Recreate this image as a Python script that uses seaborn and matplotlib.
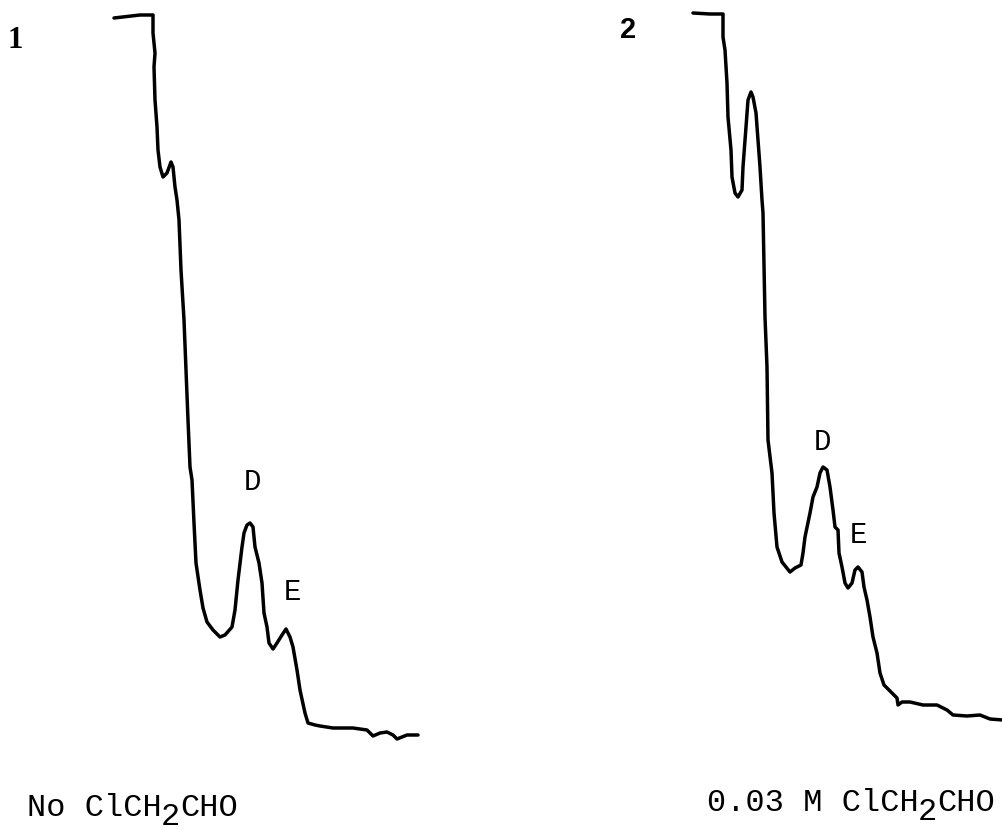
import matplotlib
matplotlib.use("Agg")
import matplotlib.pyplot as plt
import seaborn as sns
import pandas as pd

# Densitometer trace 1 (no ClCH2CHO): scan position vs recorder deflection
scan1_pos = [114, 140, 153, 153, 155, 154, 155, 157, 158, 160, 163, 167, 171, 173, 175, 177, 179,
             181, 184, 186, 188, 190, 192, 194, 196, 200, 203, 207, 213, 220, 225, 232, 235, 238,
             242, 244, 247, 250, 253, 255, 259, 262, 264, 267, 269, 273, 277, 282, 286, 290, 293,
             297, 300, 305, 308, 315, 320, 333, 353, 367, 373, 380, 387, 393, 397, 407, 418]
scan1_val = [18, 15, 15, 33, 53, 67, 100, 127, 150, 167, 177, 173, 162, 167, 187, 200, 220,
             270, 320, 370, 420, 467, 480, 523, 563, 590, 608, 622, 630, 637, 635, 627, 610, 580,
             547, 533, 525, 523, 527, 547, 563, 583, 613, 627, 643, 649, 643, 635, 629, 637, 647,
             670, 690, 713, 723, 725, 726, 728, 728, 730, 736, 733, 732, 735, 739, 735, 735]

# Densitometer trace 2 (0.03 M ClCH2CHO)
scan2_pos = [693, 710, 723, 723, 725, 727, 728, 731, 732, 735, 738, 742, 743, 746, 748, 751, 753,
             756, 758, 760, 762, 763, 765, 767, 768, 772, 774, 777, 782, 790, 795, 801, 803, 805,
             810, 813, 817, 820, 823, 827, 830, 833, 835, 838, 839, 842, 845, 848, 852, 855, 858,
             862, 864, 867, 870, 873, 877, 880, 884, 892, 897, 898, 902, 910, 923, 937, 947, 953,
             967, 980, 990, 1003]
scan2_val = [13, 14, 14, 37, 50, 83, 117, 150, 177, 193, 197, 190, 167, 127, 100, 92, 97,
             113, 140, 167, 200, 213, 317, 367, 440, 473, 513, 547, 562, 572, 568, 565, 553, 537,
             513, 497, 487, 473, 467, 470, 487, 510, 527, 530, 553, 567, 583, 588, 583, 570, 567,
             572, 587, 600, 617, 637, 653, 673, 685, 693, 698, 705, 702, 702, 705, 705, 710, 715,
             716, 715, 719, 720]

panel_labels = ["1", "2"]
peak_labels = ["D", "E"]
condition_heads = ["No ClCH", "0.03 M ClCH"]
formula_sub = "2"
formula_tail = "CHO"

sns.set_theme(style="white")
plt.rcParams["font.family"] = ["Liberation Mono", "DejaVu Sans"]
plt.rcParams["text.color"] = "black"

df1 = pd.DataFrame({"pos": scan1_pos, "val": scan1_val})
df2 = pd.DataFrame({"pos": scan2_pos, "val": scan2_val})

fig = plt.figure(figsize=(10.03, 8.30), dpi=100)
ax = fig.add_axes([0, 0, 1, 1])
for df in (df1, df2):
    sns.lineplot(data=df, x="pos", y="val", sort=False, estimator=None, ax=ax,
                 color="black", linewidth=2.5)
ax.set_xlim(0, 1003)
ax.set_ylim(830, 0)
ax.axis("off")

# panel numbers
ax.text(15.5, 41, panel_labels[0], fontsize=22, fontweight="bold", family="Liberation Serif",
        ha="center", va="center")
ax.text(628.5, 29.5, panel_labels[1], fontsize=21, fontweight="bold", family="Liberation Sans",
        ha="center", va="center")

# peak labels
lab_fs = 21
ax.text(253, 482, peak_labels[0], fontsize=lab_fs, ha="center", va="center")
ax.text(293, 592, peak_labels[1], fontsize=lab_fs, ha="center", va="center")
ax.text(823, 442, peak_labels[0], fontsize=lab_fs, ha="center", va="center")
ax.text(859, 535, peak_labels[1], fontsize=lab_fs, ha="center", va="center")

# condition captions (monospaced, subscript 2 set a little lower)
cap_fs = 23
adv = cap_fs * 100 / 72 * 0.6  # character advance in pixels for a monospaced font
for x0, y0, head in [(27, 808, condition_heads[0]), (707, 803, condition_heads[1])]:
    n = len(head)
    ax.text(x0, y0, head, fontsize=cap_fs, ha="left", va="center")
    ax.text(x0 + n * adv, y0 + 9, formula_sub, fontsize=cap_fs, ha="left", va="center")
    ax.text(x0 + (n + 1) * adv, y0, formula_tail, fontsize=cap_fs, ha="left", va="center")

fig.savefig("out.png", dpi=100, facecolor="white")
